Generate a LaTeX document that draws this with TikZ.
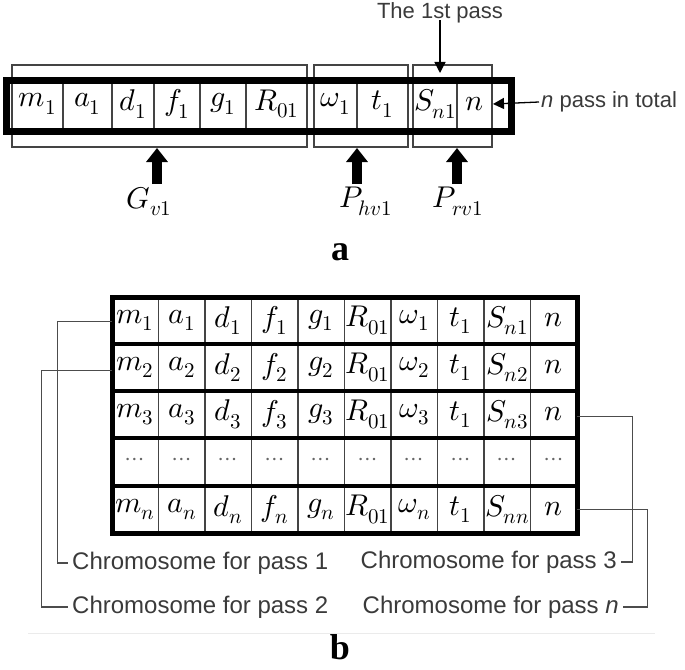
\documentclass[tikz,border=0pt]{standalone}
\usepackage{fontspec}
\usepackage{unicode-math}
\setmainfont{Liberation Sans}
\setmathfont{Latin Modern Math}
\newfontfamily\serifbold{Liberation Serif}
\usetikzlibrary{arrows.meta}
\newcommand\mathsz{\fontsize{30}{32}\selectfont}
\newcommand\labsz{\fontsize{24}{27}\selectfont}
\newcommand\smsz{\fontsize{22}{25}\selectfont}
\definecolor{txtgray}{HTML}{3A3A3A}
\definecolor{boxgray}{HTML}{444444}
\begin{document}
\begin{tikzpicture}[x=1pt,y=-1pt,
  thinbox/.style={draw=boxgray,line width=1.3pt},
  frame/.style={draw=black,line width=7pt},
  divider/.style={draw=boxgray,line width=1.3pt},
  acell/.style={inner sep=0pt,font=\mathsz},
  bcell/.style={inner sep=0pt,minimum width=46.5pt,minimum height=47.2pt,font=\mathsz},
  dotcell/.style={bcell,font=\fontsize{24}{26}\selectfont,text=black!60},
  blockarrow/.style={line width=10pt,-{Triangle[width=21pt,length=14pt]}},
  thinarrow/.style={line width=1.3pt,-{Triangle[width=11pt,length=11pt]}},
  conn/.style={draw=black!70,line width=1.3pt},
  lab/.style={inner sep=0pt,font=\labsz,text=txtgray},
  panel/.style={inner sep=0pt,font=\fontsize{36}{38}\selectfont\serifbold\bfseries}]
\useasboundingbox (0,0) rectangle (685,669);

% ---------------- Part a ----------------
% thin group boxes
\draw[thinbox] (12,65) rectangle (307,147);
\draw[thinbox] (314,65) rectangle (408,147);
\draw[thinbox] (413,65) rectangle (492,147);
% cell dividers
\foreach \x in {63,112,154,200,246,357,457}
  \draw[divider] (\x,80) -- (\x,131);
% thick frame
\draw[frame] (6,80) rectangle (511,131);
% cell texts
\node[acell] (am) at (37.5,104) {$m_1$};
\node[acell] (aa) at (87.5,104) {$a_1$};
\node[acell] (ad) at (133,104) {$d_1$};
\node[acell] (af) at (177,104) {$f_1$};
\node[acell] (ag) at (223,104) {$g_1$};
\node[acell] (aR) at (276.5,104) {$R_{01}$};
\node[acell] (aw) at (335.5,104) {$\omega_1$};
\node[acell] (at) at (382.5,104) {$t_1$};
\node[acell] (aS) at (435,104) {$S_{n1}$};
\node[acell] (an) at (474.5,104) {$n$};

% block arrows and labels
\node[acell,anchor=north] (gv) at (149,187) {$G_{v1}$};
\node[acell,anchor=north] (ph) at (366,187) {$P_{hv1}$};
\node[acell,anchor=north] (pr) at (458,187) {$P_{rv1}$};
\coordinate (gvs) at (157,184);
\coordinate (gvt) at (157,148);
\coordinate (phs) at (357,184);
\coordinate (pht) at (357,148);
\coordinate (prs) at (457,184);
\coordinate (prt) at (457,148);
\draw[blockarrow] (gvs) -- (gvt);
\draw[blockarrow] (phs) -- (pht);
\draw[blockarrow] (prs) -- (prt);

% The 1st pass
\node[inner sep=0pt,font=\smsz,text=txtgray] (first) at (440,13) {The 1st pass};
\coordinate (firstt) at (440,73);
\draw[thinarrow] (first.south) ++(0,-3) -- (firstt);

% n pass in total
\node[inner sep=0pt,font=\smsz,text=txtgray,anchor=west] (npass) at (541,102) {\textit{n} pass in total};
\draw[thinarrow] ([xshift=-2pt]npass.west) -- (an.east -| 493,0);

\node[panel] (pa) at (340,252) {a};

% ---------------- Part b ----------------
% vertical dividers
\foreach \i in {1,...,9}
  \draw[divider] ({112+46.5*\i},297) -- ({112+46.5*\i},533);
% thick horizontal lines
\foreach \y in {344,391,438,486}
  \draw[line width=4pt] (112,\y) -- (577,\y);
% outer border
\draw[line width=5pt] (112,297) rectangle (577,533);

\foreach \t [count=\i] in {m_1,a_1,d_1,f_1,g_1,R_{01},\omega_1,t_1,S_{n1},n}
  \node[bcell] (b1-\i) at ({112+46.5*(\i-0.5)},320.5) {$\t$};
\foreach \t [count=\i] in {m_2,a_2,d_2,f_2,g_2,R_{01},\omega_2,t_1,S_{n2},n}
  \node[bcell] (b2-\i) at ({112+46.5*(\i-0.5)},367.5) {$\t$};
\foreach \t [count=\i] in {m_3,a_3,d_3,f_3,g_3,R_{01},\omega_3,t_1,S_{n3},n}
  \node[bcell] (b3-\i) at ({112+46.5*(\i-0.5)},414.5) {$\t$};
\foreach \i in {1,...,10}
  \node[dotcell] (b4-\i) at ({112+46.5*(\i-0.5)},462) {$\cdots$};
\foreach \t [count=\i] in {m_n,a_n,d_n,f_n,g_n,R_{01},\omega_n,t_1,S_{nn},n}
  \node[bcell] (b5-\i) at ({112+46.5*(\i-0.5)},509.5) {$\t$};

% labels
\node[lab,anchor=west] (lab1) at (68,563) {\,Chromosome for pass 1};
\node[lab,anchor=west] (lab2) at (68,607) {\,Chromosome for pass 2};
\node[lab,anchor=east] (lab3) at (621,562) {Chromosome for pass 3\,};
\node[lab,anchor=east] (labn) at (623,607) {Chromosome for pass \textit{n}\,};

% connectors
\draw[conn] ([yshift=-1pt]b1-1.west) -- ++(-54,0) |- (lab1.west);
\draw[conn] ([yshift=-3pt]b2-1.west) -- ++(-70,0) |- (lab2.west);
\draw[conn] ([yshift=-2pt]b3-10.east) -- ++(55,0) |- (lab3.east);
\draw[conn] (b5-10.east) -- ++(70,0) |- (labn.east);

% faint separator
\draw[black!8,line width=1pt] (28,633) -- (655,633);

\node[panel] (pb) at (340,647) {b};
\end{tikzpicture}
\end{document}
